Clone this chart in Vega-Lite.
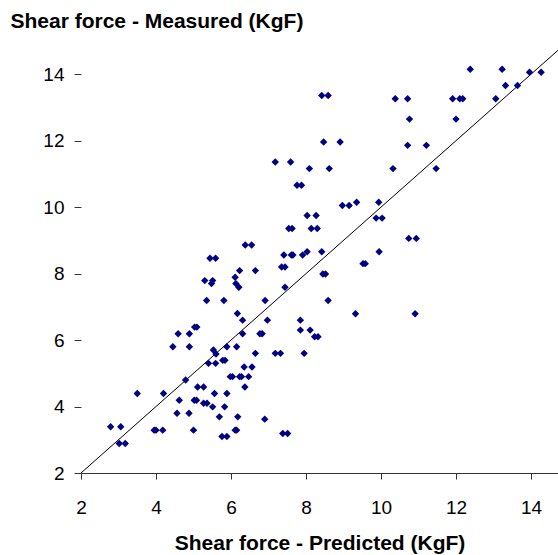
{
  "$schema": "https://vega.github.io/schema/vega-lite/v6.json",
  "autosize": {"type": "none"},
  "width": 477,
  "height": 432,
  "padding": {"left": 81, "top": 41, "right": 0, "bottom": 82},
  "background": "white",
  "config": {
    "view": {"stroke": null},
    "font": "Liberation Sans",
    "axis": {"grid": false, "labelFont": "Liberation Sans", "titleFont": "Liberation Sans", "labelColor": "#000", "titleColor": "#000", "tickColor": "#333", "domainColor": "#333"}
  },
  "datasets": {
    "pts": [
      {"p":8.42,"m":13.36},{"p":8.59,"m":13.36},{"p":10.38,"m":13.26},{"p":10.71,"m":13.26},{"p":10.76,"m":12.65},
      {"p":8.47,"m":11.96},{"p":8.91,"m":11.96},{"p":10.71,"m":11.86},{"p":11.21,"m":11.86},{"p":7.18,"m":11.36},
      {"p":7.59,"m":11.36},{"p":8.09,"m":11.16},{"p":8.62,"m":11.16},{"p":10.32,"m":11.16},{"p":11.47,"m":11.16},
      {"p":7.76,"m":10.66},{"p":7.88,"m":10.66},{"p":8.97,"m":10.05},{"p":9.15,"m":10.05},{"p":9.35,"m":10.15},
      {"p":9.94,"m":10.15},{"p":8.03,"m":9.75},{"p":8.27,"m":9.75},{"p":9.87,"m":9.67},{"p":10.03,"m":9.67},
      {"p":12.38,"m":14.15},{"p":13.23,"m":14.15},{"p":13.96,"m":14.06},{"p":14.27,"m":14.06},{"p":13.32,"m":13.66},
      {"p":13.64,"m":13.66},{"p":11.91,"m":13.26},{"p":12.10,"m":13.26},{"p":12.18,"m":13.26},{"p":13.06,"m":13.26},
      {"p":12.00,"m":12.65},{"p":7.54,"m":9.36},{"p":7.63,"m":9.36},{"p":8.14,"m":9.36},{"p":8.30,"m":9.36},
      {"p":10.74,"m":9.06},{"p":10.94,"m":9.06},{"p":6.38,"m":8.86},{"p":6.55,"m":8.86},{"p":5.44,"m":8.46},
      {"p":5.59,"m":8.46},{"p":7.41,"m":8.56},{"p":7.61,"m":8.56},{"p":7.65,"m":8.56},{"p":7.91,"m":8.56},
      {"p":8.03,"m":8.66},{"p":8.42,"m":8.66},{"p":9.95,"m":8.66},{"p":9.52,"m":8.30},{"p":9.58,"m":8.30},
      {"p":6.23,"m":8.09},{"p":6.65,"m":8.09},{"p":7.35,"m":8.20},{"p":7.44,"m":8.20},{"p":8.45,"m":7.99},
      {"p":8.52,"m":7.99},{"p":5.30,"m":7.79},{"p":5.51,"m":7.79},{"p":5.48,"m":7.70},{"p":6.11,"m":7.89},
      {"p":6.13,"m":7.70},{"p":6.21,"m":7.59},{"p":7.44,"m":7.59},{"p":5.35,"m":7.19},{"p":5.81,"m":7.19},
      {"p":6.91,"m":7.19},{"p":8.59,"m":7.19},{"p":6.17,"m":6.80},{"p":9.32,"m":6.79},{"p":10.91,"m":6.79},
      {"p":6.31,"m":6.60},{"p":6.97,"m":6.60},{"p":7.85,"m":6.60},{"p":5.03,"m":6.39},{"p":5.09,"m":6.39},
      {"p":4.59,"m":6.19},{"p":4.89,"m":6.19},{"p":6.31,"m":6.19},{"p":6.77,"m":6.19},{"p":6.83,"m":6.19},
      {"p":7.85,"m":6.30},{"p":8.11,"m":6.30},{"p":8.23,"m":6.10},{"p":8.32,"m":6.10},{"p":4.45,"m":5.80},
      {"p":4.89,"m":5.80},{"p":5.53,"m":5.70},{"p":5.89,"m":5.80},{"p":6.15,"m":5.80},{"p":6.65,"m":5.60},
      {"p":7.18,"m":5.60},{"p":7.32,"m":5.60},{"p":7.95,"m":5.60},{"p":5.60,"m":5.58},{"p":5.40,"m":5.30},
      {"p":5.59,"m":5.30},{"p":5.78,"m":5.39},{"p":5.84,"m":5.39},{"p":6.35,"m":5.19},{"p":6.56,"m":5.19},
      {"p":4.79,"m":4.80},{"p":5.98,"m":4.90},{"p":6.04,"m":4.90},{"p":6.23,"m":4.90},{"p":6.28,"m":4.90},
      {"p":6.47,"m":4.90},{"p":5.11,"m":4.59},{"p":5.27,"m":4.59},{"p":6.37,"m":4.59},{"p":3.50,"m":4.39},
      {"p":4.20,"m":4.39},{"p":5.56,"m":4.39},{"p":5.89,"m":4.39},{"p":4.62,"m":4.19},{"p":5.02,"m":4.19},
      {"p":5.08,"m":4.19},{"p":5.27,"m":4.10},{"p":5.36,"m":4.10},{"p":5.51,"m":3.99},{"p":5.83,"m":3.99},
      {"p":4.56,"m":3.80},{"p":4.88,"m":3.80},{"p":5.69,"m":3.69},{"p":6.18,"m":3.69},{"p":6.90,"m":3.62},
      {"p":2.79,"m":3.39},{"p":3.06,"m":3.39},{"p":3.95,"m":3.29},{"p":4.00,"m":3.29},{"p":4.18,"m":3.29},
      {"p":5.00,"m":3.29},{"p":6.11,"m":3.29},{"p":6.15,"m":3.29},{"p":7.38,"m":3.19},{"p":7.51,"m":3.19},
      {"p":3.02,"m":2.89},{"p":3.18,"m":2.89},{"p":5.76,"m":3.10},{"p":5.89,"m":3.10}
    ],
    "diag": [{"p": 2, "m": 2}, {"p": 15, "m": 15}]
  },
  "layer": [
    {
      "data": {"name": "diag"},
      "mark": {"type": "line", "color": "#000", "strokeWidth": 1, "clip": true},
      "encoding": {
        "x": {"field": "p", "type": "quantitative"},
        "y": {"field": "m", "type": "quantitative"}
      }
    },
    {
      "data": {"name": "pts"},
      "mark": {"type": "point", "shape": "diamond", "filled": true, "color": "#000080", "opacity": 1, "size": 55},
      "encoding": {
        "x": {
          "field": "p", "type": "quantitative",
          "scale": {"domain": [2, 14.72], "nice": false, "zero": false},
          "axis": {
            "title": "Shear force - Predicted (KgF)",
            "values": [2, 4, 6, 8, 10, 12, 14],
            "tickSize": 6, "labelFontSize": 19, "labelPadding": 19,
            "titleFontSize": 21, "titleFontWeight": "bold", "titlePadding": 15,
            "labelFlush": false
          }
        },
        "y": {
          "field": "m", "type": "quantitative",
          "scale": {"domain": [2, 15], "nice": false, "zero": false},
          "axis": {
            "title": "Shear force - Measured (KgF)",
            "values": [2, 4, 6, 8, 10, 12, 14],
            "domain": false, "tickSize": 7, "labelFontSize": 19, "labelPadding": 10,
            "labelFlush": false,
            "titleAngle": 0, "titleAlign": "left", "titleBaseline": "middle",
            "titleX": -71, "titleY": -20,
            "titleFontSize": 21, "titleFontWeight": "bold"
          }
        }
      }
    }
  ]
}
